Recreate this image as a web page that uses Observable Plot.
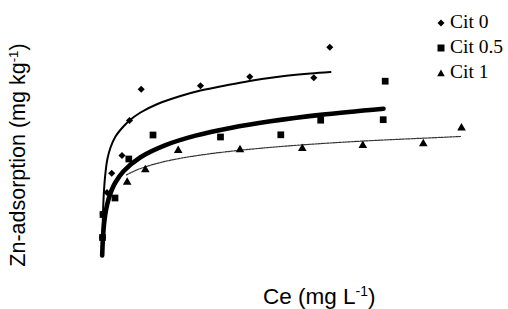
<!DOCTYPE html>
<html>
<head>
<meta charset="utf-8">
<script src="https://cdn.jsdelivr.net/npm/d3@7"></script>
<script src="https://cdn.jsdelivr.net/npm/@observablehq/plot@0.6"></script>
<style>
  html, body { margin: 0; padding: 0; background: #fff; }
  #wrap { position: relative; width: 508px; height: 309px; overflow: hidden; }
  #wrap svg.chart { position: absolute; left: 0; top: 0; }
  .lab { position: absolute; white-space: nowrap; line-height: 1; color: #000; }
  .ylab { font-family: "Liberation Sans", Arial, sans-serif; font-size: 21.5px; }
  .xlab { font-family: "Liberation Sans", Arial, sans-serif; font-size: 22.5px; }
  .leg { font-family: "Liberation Serif", "Times New Roman", serif; font-size: 19.5px; }
  sup { font-size: 0.62em; vertical-align: 0; position: relative; top: -0.55em; }
</style>
</head>
<body>
<div id="wrap"></div>
<script>
// Series names
const seriesNames = ["Cit 0", "Cit 0.5", "Cit 1"];

const cit0Ce  = [0.5, 0.8, 2.75, 5.1, 10.25, 14, 19.85, 49.5, 74.15, 106.15, 114.15];
const cit0Ads = [177, 420, 630, 823, 1000, 1350, 1663, 1697, 1787, 1777, 2083];

const cit05Ce  = [0.5, 0.75, 6.75, 13.65, 25.75, 59.5, 89.65, 109.6, 140.85, 141.85];
const cit05Ads = [180, 410, 575, 965, 1205, 1185, 1207, 1353, 1358, 1743];

const cit1Ce  = [12.85, 21.9, 38.35, 69.25, 100.4, 130.65, 160.9, 180];
const cit1Ads = [732, 858, 1050, 1058, 1070, 1100, 1117, 1275];

const fit0Ce  = [0.35, 0.6, 1.1, 2, 3, 4.5, 7, 10.5, 14, 19.5, 28, 39.5, 49.5, 62, 74, 89.5, 104.5, 114.5];
const fit0Ads = [20, 300, 600, 830, 970, 1080, 1190, 1280, 1350, 1430, 1515, 1595, 1650, 1700, 1745, 1790, 1820, 1835];

const fit05Ce  = [0.35, 0.6, 1, 1.5, 2.25, 3.5, 5, 7, 11, 19.5, 32, 47, 64.5, 84.5, 109.5, 141];
const fit05Ads = [0, 130, 255, 355, 454, 562, 650, 732, 843, 983, 1104, 1199, 1276, 1342, 1406, 1467];

const fit1Ce  = [12.5, 17, 22, 29.5, 39.5, 54.5, 74.5, 99.5, 129.5, 159.5, 179.5];
const fit1Ads = [806, 850, 887, 930, 972, 1018, 1063, 1105, 1143, 1172, 1190];

const zip = (xs, ys) => xs.map((x, i) => ({x, y: ys[i]}));
const pts0 = zip(cit0Ce, cit0Ads), pts05 = zip(cit05Ce, cit05Ads), pts1 = zip(cit1Ce, cit1Ads);
const f0 = zip(fit0Ce, fit0Ads), f05 = zip(fit05Ce, fit05Ads), f1 = zip(fit1Ce, fit1Ads);

const chart = Plot.plot({
  width: 508,
  height: 309,
  marginLeft: 101,
  marginRight: 47,
  marginTop: 45,
  marginBottom: 54,
  x: {domain: [0, 180], axis: null},
  y: {domain: [0, 2100], axis: null},
  style: {background: "#fff", overflow: "visible"},
  marks: [
    Plot.line(f1, {x: "x", y: "y", stroke: "#333", strokeWidth: 1.2, strokeDasharray: "2,1", curve: "catmull-rom"}),
    Plot.line(f05, {x: "x", y: "y", stroke: "#000", strokeWidth: 4.6, strokeLinecap: "round", curve: "catmull-rom"}),
    Plot.line(f0, {x: "x", y: "y", stroke: "#000", strokeWidth: 2, curve: "catmull-rom"}),
    Plot.dot(pts1, {x: "x", y: "y", symbol: "triangle", r: 3.2, fill: "#000", stroke: null}),
    Plot.dot(pts05, {x: "x", y: "y", symbol: "square", r: 3.8, fill: "#000", stroke: null}),
    Plot.dot(pts0, {x: "x", y: "y", symbol: "diamond2", r: 3.2, fill: "#000", stroke: null})
  ]
});
chart.classList.add("chart");
const wrap = document.getElementById("wrap");
wrap.appendChild(chart);

// Axis titles
const ylab = document.createElement("div");
ylab.className = "lab ylab";
ylab.innerHTML = "Zn-adsorption (mg kg<sup>-1</sup>)";
ylab.style.left = "19px";
ylab.style.top = "155px";
ylab.style.transform = "translate(-50%, -50%) rotate(-90deg)";
wrap.appendChild(ylab);

const xlab = document.createElement("div");
xlab.className = "lab xlab";
xlab.innerHTML = "Ce (mg L<sup>-1</sup>)";
xlab.style.left = "263px";
xlab.style.top = "286px";
wrap.appendChild(xlab);

// Legend
const legSymbols = [
  '<polygon points="5,1.5 8.5,5 5,8.5 1.5,5" fill="#000"/>',
  '<rect x="1.5" y="1.5" width="7" height="7" fill="#000"/>',
  '<polygon points="5,1.5 8.8,8.3 1.2,8.3" fill="#000"/>'
];
const legTop = [12, 37, 62];
const legSymY = [17.7, 43, 67.7];
seriesNames.forEach((name, i) => {
  const s = document.createElement("div");
  s.className = "lab";
  s.style.left = "436px";
  s.style.top = legSymY[i] + "px";
  s.innerHTML = '<svg width="10" height="10" style="display:block">' + legSymbols[i] + '</svg>';
  wrap.appendChild(s);
  const t = document.createElement("div");
  t.className = "lab leg";
  t.style.left = "450px";
  t.style.top = legTop[i] + "px";
  t.textContent = name;
  wrap.appendChild(t);
});
</script>
</body>
</html>
